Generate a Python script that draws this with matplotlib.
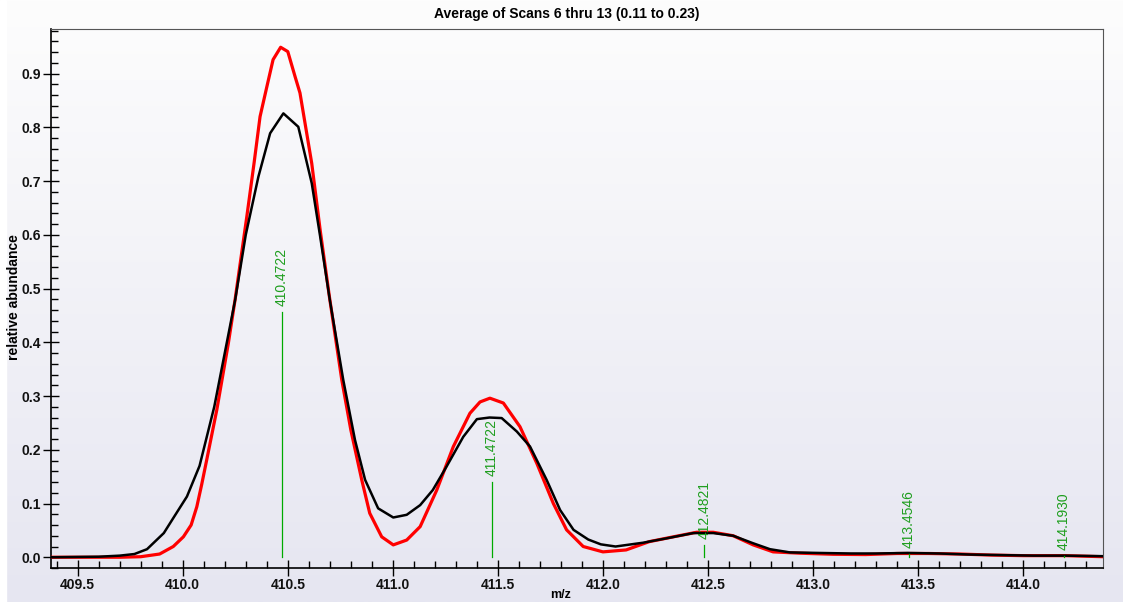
import numpy as np
import matplotlib.pyplot as plt
from matplotlib.ticker import MultipleLocator, FormatStrFormatter

# --- data ---
# measured (averaged scans) profile, black
mz_meas = [409.37, 409.60, 409.70, 409.77, 409.83, 409.91, 409.96, 410.02, 410.08, 410.15,
           410.21, 410.25, 410.30, 410.36, 410.416, 410.479, 410.55, 410.614, 410.654, 410.70,
           410.764, 410.82, 410.868, 410.93, 411.002, 411.066, 411.13, 411.19, 411.256, 411.335,
           411.40, 411.46, 411.518, 411.59, 411.653, 411.732, 411.796, 411.86, 411.93, 411.99,
           412.06, 412.19, 412.30, 412.43, 412.525, 412.62, 412.715, 412.795, 412.89, 413.03,
           413.18, 413.30, 413.45, 413.60, 413.75, 413.90, 414.05, 414.20, 414.38]
ab_meas = [0.0, 0.001, 0.003, 0.006, 0.015, 0.045, 0.076, 0.113, 0.17, 0.28,
           0.40, 0.48, 0.60, 0.708, 0.789, 0.826, 0.801, 0.696, 0.597, 0.479,
           0.33, 0.218, 0.144, 0.091, 0.074, 0.079, 0.097, 0.125, 0.169, 0.224,
           0.257, 0.26, 0.259, 0.234, 0.206, 0.144, 0.088, 0.051, 0.033, 0.024,
           0.02, 0.027, 0.035, 0.045, 0.045, 0.040, 0.026, 0.015, 0.009, 0.008,
           0.007, 0.007, 0.008, 0.007, 0.005, 0.004, 0.003, 0.003, 0.002]

# theoretical isotope pattern, red
mz_theo = [409.37, 409.70, 409.80, 409.89, 409.955, 410.003, 410.04, 410.067, 410.09, 410.114,
           410.162, 410.217, 410.249, 410.305, 410.34, 410.368, 410.40, 410.43, 410.466, 410.50,
           410.535, 410.558, 410.614, 410.654, 410.698, 410.757, 410.80, 410.852, 410.89, 410.947,
           411.002, 411.066, 411.13, 411.209, 411.288, 411.367, 411.415, 411.462, 411.526, 411.605,
           411.685, 411.764, 411.827, 411.906, 412.0, 412.11, 412.22, 412.335, 412.446, 412.525,
           412.62, 412.715, 412.81, 412.94, 413.096, 413.25, 413.40, 413.55, 413.70, 413.85,
           414.0, 414.2, 414.38]
ab_theo = [0.0, 0.0, 0.001, 0.006, 0.02, 0.038, 0.06, 0.094, 0.135, 0.181,
           0.274, 0.398, 0.479, 0.634, 0.735, 0.82, 0.875, 0.926, 0.949, 0.941,
           0.894, 0.864, 0.733, 0.609, 0.485, 0.33, 0.237, 0.144, 0.082, 0.038,
           0.023, 0.032, 0.057, 0.125, 0.206, 0.268, 0.289, 0.296, 0.287, 0.243,
           0.175, 0.10, 0.051, 0.02, 0.01, 0.0136, 0.029, 0.038, 0.0465, 0.0465,
           0.040, 0.023, 0.010, 0.0075, 0.0055, 0.005, 0.007, 0.007, 0.006, 0.004,
           0.003, 0.003, 0.001]

# centroid sticks (green)
peak_mz = [410.4722, 411.4722, 412.4821, 413.4546, 414.1930]
peak_ab = [0.4565, 0.140, 0.023, 0.006, 0.002]
peak_labels = ['410.4722', '411.4722', '412.4821', '413.4546', '414.1930']

title = 'Average of Scans 6 thru 13 (0.11 to 0.23)'

plt.rcParams['font.family'] = ['Liberation Sans', 'DejaVu Sans']

W, H = 1123, 602
fig = plt.figure(figsize=(W / 100, H / 100), dpi=100)

# background: soft vertical gradient, white on top to lavender at bottom
bg = fig.add_axes([0, 0, 1, 1], zorder=0)
top_col = np.array([253, 253, 253]) / 255
bot_col = np.array([230, 230, 241]) / 255
t = np.linspace(0, 1, 256)[:, None, None]
grad = top_col * (1 - t) + bot_col * t
bg.imshow(grad, aspect='auto', extent=[0, 1, 0, 1], origin='upper')
bg.axvspan(0, 6 / W, color='white')
bg.set_xlim(0, 1)
bg.set_ylim(0, 1)
bg.axis('off')

ax = fig.add_axes([51 / W, 1 - 568 / H, (1103 - 51) / W, (568 - 29) / H], zorder=1)
ax.patch.set_alpha(0)

ax.plot(mz_theo, ab_theo, color='#ff0000', lw=2.3, zorder=3, solid_joinstyle='round')
ax.plot(mz_meas, ab_meas, color='black', lw=1.8, zorder=4)

green_line = '#00aa00'
green_text = '#1e9e1e'
for mz, ab, lab in zip(peak_mz, peak_ab, peak_labels):
    ax.plot([mz, mz], [0, ab], color=green_line, lw=0.9, zorder=5)
    ax.annotate(lab, xy=(mz, ab), xytext=(0, 4.5), textcoords='offset points',
                rotation=90, ha='center', va='bottom', color=green_text,
                fontsize=10, zorder=6)

ax.set_xlim(409.373, 414.38)
ax.set_ylim(-0.02, 0.983)

ax.xaxis.set_major_locator(MultipleLocator(0.5))
ax.xaxis.set_minor_locator(MultipleLocator(0.1))
ax.yaxis.set_major_locator(MultipleLocator(0.1))
ax.yaxis.set_minor_locator(MultipleLocator(0.02))
ax.xaxis.set_major_formatter(FormatStrFormatter('%.1f'))
ax.yaxis.set_major_formatter(FormatStrFormatter('%.1f'))

ax.tick_params(which='major', direction='inout', length=11, width=1, color='black')
ax.tick_params(which='minor', direction='in', length=5, width=1, color='black')
ax.tick_params(axis='x', which='major', pad=2)
ax.tick_params(axis='y', which='major', pad=2)
for lbl in ax.get_xticklabels() + ax.get_yticklabels():
    lbl.set_fontweight('bold')
    lbl.set_fontsize(10)
    lbl.set_color('#111111')

for side in ['top', 'right']:
    ax.spines[side].set_color('#555555')
for side in ['left', 'bottom']:
    ax.spines[side].set_color('black')
    ax.spines[side].set_linewidth(1.2)

fig.text(567 / W, 1 - 14 / H, title, ha='center', va='center',
         fontsize=10, fontweight='bold', color='black')
fig.text(14 / W, 1 - 297 / H, 'relative abundance', ha='center', va='center',
         rotation=90, fontsize=10, fontweight='bold', color='black')
fig.text(561 / W, 1 / H, 'm/z', ha='center', va='bottom',
         fontsize=9, fontweight='bold', color='black')

fig.savefig('out.png', dpi=100)
